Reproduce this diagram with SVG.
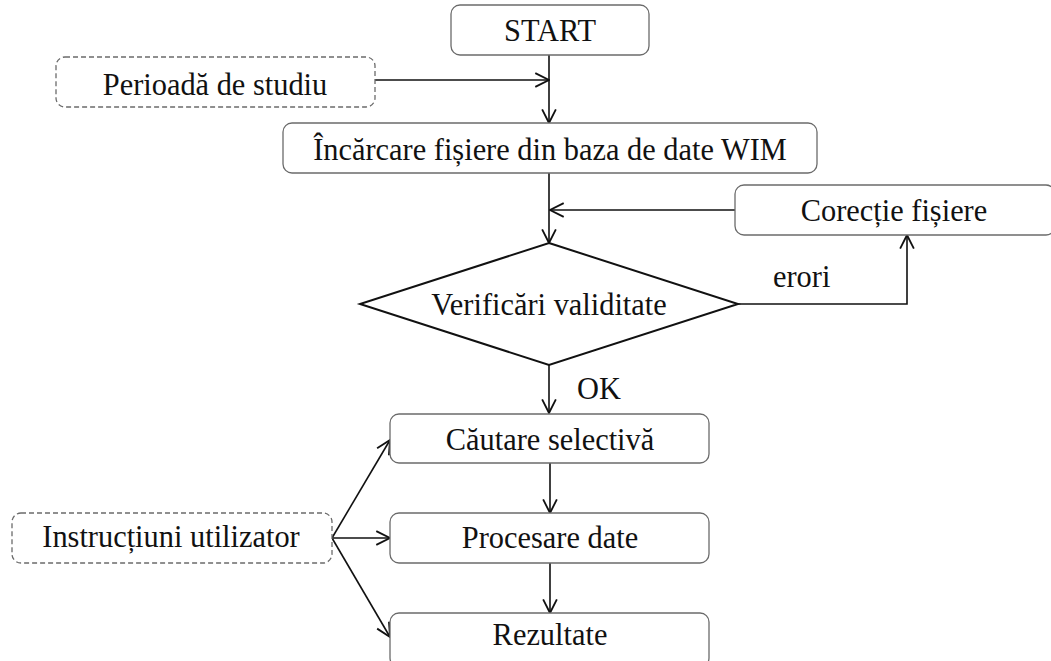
<svg xmlns="http://www.w3.org/2000/svg" width="1051" height="661" viewBox="0 0 1051 661">
  <style>
    .box { fill: #ffffff; stroke: #6b6b6b; stroke-width: 1.3; }
    .dash { fill: #ffffff; stroke: #6b6b6b; stroke-width: 1.3; stroke-dasharray: 5 3; }
    .dec { fill: #ffffff; stroke: #111111; stroke-width: 2; }
    .lbl { font-family: "Liberation Serif", "Times New Roman", serif; font-size: 32px; fill: #111111; text-anchor: middle; }
    .note { font-family: "Liberation Serif", "Times New Roman", serif; font-size: 32px; fill: #111111; }
    .wire { fill: none; stroke: #111111; stroke-width: 1.6; marker-end: url(#arrow); }
  </style>
  <defs>
    <marker id="arrow" markerUnits="userSpaceOnUse" markerWidth="16" markerHeight="16" viewBox="0 0 14 14" refX="13" refY="7" orient="auto">
      <path d="M1,1 L13,7 L1,13" fill="none" stroke="#111111" stroke-width="1.6"/>
    </marker>
  </defs>
  <rect width="1051" height="661" fill="#ffffff"/>

  <!-- connectors -->
  <g id="connectors">
    <path class="wire" d="M375,80 H549"/>
    <path class="wire" d="M549,55 V123"/>
    <path class="wire" d="M549,173 V243"/>
    <path class="wire" d="M735,210 H550"/>
    <path class="wire" d="M738,304 H907 V235"/>
    <path class="wire" d="M549,365 V413"/>
    <path class="wire" d="M550,463 V513"/>
    <path class="wire" d="M550,563 V613"/>
    <path class="wire" d="M332,538 L390,440"/>
    <path class="wire" d="M332,538 H390"/>
    <path class="wire" d="M332,538 L390,637"/>
  </g>

  <!-- connector labels (narrow serif: scaled horizontally) -->
  <text class="note" transform="translate(773,287) scale(0.95,1)">erori</text>
  <text class="note" transform="translate(577,399) scale(0.95,1)">OK</text>

  <!-- nodes -->
  <g id="start">
    <rect class="box" x="451" y="5" width="198" height="50" rx="9"/>
    <text class="lbl" transform="translate(550,41) scale(0.95,1)">START</text>
  </g>
  <g id="perioada">
    <rect class="dash" x="56" y="57" width="319" height="50" rx="9"/>
    <text class="lbl" transform="translate(215,95) scale(0.95,1)">Perioadă de studiu</text>
  </g>
  <g id="incarcare">
    <rect class="box" x="283" y="123" width="534" height="50" rx="9"/>
    <text class="lbl" transform="translate(550,160) scale(0.95,1)">Încărcare fișiere din baza de date WIM</text>
  </g>
  <g id="corectie">
    <rect class="box" x="735" y="185" width="320" height="50" rx="9"/>
    <text class="lbl" transform="translate(894,221) scale(0.95,1)">Corecție fișiere</text>
  </g>
  <g id="verificari">
    <polygon class="dec" points="549,243 738,304 549,365 360,304"/>
    <text class="lbl" transform="translate(549,315) scale(0.95,1)">Verificări validitate</text>
  </g>
  <g id="cautare">
    <rect class="box" x="390" y="414" width="319" height="49" rx="9"/>
    <text class="lbl" transform="translate(550,450) scale(0.95,1)">Căutare selectivă</text>
  </g>
  <g id="procesare">
    <rect class="box" x="390" y="513" width="319" height="50" rx="9"/>
    <text class="lbl" transform="translate(550,548) scale(0.95,1)">Procesare date</text>
  </g>
  <g id="rezultate">
    <rect class="box" x="390" y="613" width="319" height="54" rx="9"/>
    <text class="lbl" transform="translate(550,645) scale(0.95,1)">Rezultate</text>
  </g>
  <g id="instructiuni">
    <rect class="dash" x="12" y="513" width="320" height="50" rx="9"/>
    <text class="lbl" transform="translate(171,547) scale(0.95,1)">Instrucțiuni utilizator</text>
  </g>
</svg>
